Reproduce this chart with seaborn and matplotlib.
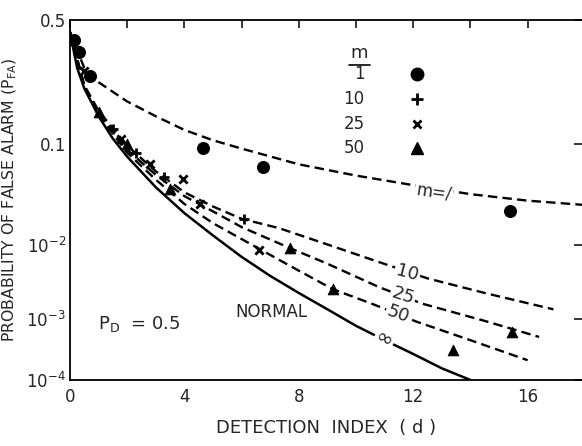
from statistics import NormalDist
import numpy as np
import matplotlib
matplotlib.use("Agg")
import matplotlib.pyplot as plt
import seaborn as sns

# curves (detection index d, probability of false alarm)
d_inf = [0, 0.25, 0.5, 1, 1.5, 2, 3, 4, 5, 6, 7, 8, 9, 10, 11, 12, 13, 14]
p_inf = [0.45, 0.31, 0.24, 0.16, 0.11, 0.079, 0.042, 0.023, 0.013, 0.0072,
         0.0041, 0.0024, 0.0014, 0.00079, 0.00047, 0.00028, 0.00016, 0.0001]

d_m1 = [0, 0.5, 1, 2, 3, 4, 5, 6, 8, 10, 12, 14, 16, 18]
p_m1 = [0.45, 0.31, 0.26, 0.2, 0.16, 0.128, 0.107, 0.092, 0.068, 0.054,
        0.044, 0.036, 0.031, 0.028]

d_m10 = [0, 0.5, 1, 2, 3, 4, 5, 6, 7.3, 9, 10.8, 12.5, 14.5, 16.9]
p_m10 = [0.45, 0.25, 0.174, 0.097, 0.059, 0.0375, 0.027, 0.020, 0.0158,
         0.0102, 0.0062, 0.0038, 0.0024, 0.0014]

d_m25 = [0, 0.5, 1, 2, 3, 4, 5, 6, 7.7, 9, 10.8, 12.3, 14.5, 16.4]
p_m25 = [0.45, 0.248, 0.1685, 0.090, 0.0548, 0.0344, 0.024, 0.0162, 0.0092,
         0.0059, 0.0029, 0.0017, 0.00094, 0.00053]

d_m50 = [0, 0.5, 1, 2, 3, 4, 5, 6.6, 8, 9.2, 10.6, 12.1, 14, 16]
p_m50 = [0.45, 0.245, 0.1635, 0.0853, 0.0495, 0.0287, 0.0179, 0.0091, 0.0048,
         0.0027, 0.00166, 0.00092, 0.00047, 0.00022]

# measured points
pts_m1_d = [0.15, 0.3, 0.7, 4.65, 6.75, 15.4]
pts_m1_p = [0.42, 0.37, 0.28, 0.093, 0.064, 0.024]
pts_m10_d = [0.3, 1.5, 2.3, 3.3, 6.1]
pts_m10_p = [0.37, 0.13, 0.085, 0.052, 0.020]
pts_m25_d = [0.5, 1.8, 2.8, 3.95, 4.55, 6.6]
pts_m25_p = [0.3, 0.11, 0.068, 0.05, 0.029, 0.0087]
pts_m50_d = [1.0, 2.0, 3.5, 7.7, 9.2, 13.4, 15.45]
pts_m50_p = [0.17, 0.1, 0.04, 0.0092, 0.0027, 0.00032, 0.00063]

key_labels = ["1", "10", "25", "50"]
key_markers = ["o", "P", "X", "^"]

y_ticks = [1e-4, 1e-3, 1e-2, 0.1, 0.5]
y_ticklabels = ["$10^{-4}$", "$10^{-3}$", "$10^{-2}$", "0.1", "0.5"]

nd = NormalDist()
_fwd = np.vectorize(lambda p: nd.inv_cdf(min(max(p, 1e-12), 1 - 1e-12)), otypes=[float])
_inv = np.vectorize(nd.cdf, otypes=[float])


def fwd(p):
    return _fwd(np.asarray(p, dtype=float))


def inv(z):
    return _inv(np.asarray(z, dtype=float))


sns.set_style("white")
plt.rcParams["font.family"] = ["DejaVu Sans"]
plt.rcParams["mathtext.default"] = "regular"

fig = plt.figure(figsize=(5.82, 4.46), dpi=100)
ax = fig.add_axes([70 / 582, 1 - 380 / 446, 512 / 582, 360 / 446])
ax.set_yscale("function", functions=(fwd, inv))

dash = (0, (4, 2.2))
sns.lineplot(x=d_inf, y=p_inf, ax=ax, color="black", lw=1.8, sort=False)
for dd, pp in [(d_m1, p_m1), (d_m10, p_m10), (d_m25, p_m25), (d_m50, p_m50)]:
    sns.lineplot(x=dd, y=pp, ax=ax, color="black", lw=1.7, linestyle=dash, sort=False)

sns.scatterplot(x=pts_m1_d, y=pts_m1_p, ax=ax, marker="o", s=75, color="black",
                edgecolor="black", zorder=5)
sns.scatterplot(x=pts_m10_d, y=pts_m10_p, ax=ax, marker="+", s=55, color="black",
                linewidth=2, zorder=5)
sns.scatterplot(x=pts_m25_d, y=pts_m25_p, ax=ax, marker="x", s=35, color="black",
                linewidth=2, zorder=5)
sns.scatterplot(x=pts_m50_d, y=pts_m50_p, ax=ax, marker="^", s=60, color="black",
                edgecolor="black", zorder=5)

ax.set_xlim(0, 17.9)
ax.set_ylim(1e-4, 0.5)
ax.set_yticks(y_ticks)
ax.set_yticklabels(y_ticklabels)
ax.yaxis.set_minor_locator(matplotlib.ticker.NullLocator())
ax.set_xticks([0, 4, 8, 12, 16])
ax.set_xticks([2, 6, 10, 14], minor=True)

ax.tick_params(axis="both", which="both", direction="in", length=6, width=1.1,
               top=True, right=True, labelsize=12, color="black")
ax.tick_params(axis="y", pad=3)
ax.tick_params(axis="x", pad=6)
for s in ["left", "bottom", "top"]:
    ax.spines[s].set_linewidth(1.3)
    ax.spines[s].set_color("black")
ax.spines["right"].set_visible(False)

ax.set_xlabel("DETECTION  INDEX  ( d )", fontsize=13, labelpad=9)
ax.set_ylabel("PROBABILITY OF FALSE ALARM (P$_{FA}$)", fontsize=11.3, labelpad=5)

# key in the upper middle
ax.text(0.564, 0.908, "m", transform=ax.transAxes, fontsize=13, ha="center", va="center")
ax.plot([0.545, 0.585], [0.875, 0.875], transform=ax.transAxes, color="black", lw=1.2)
rows_y = [0.85, 0.781, 0.711, 0.644]
for lab, mk, yy in zip(key_labels, key_markers, rows_y):
    ax.text(0.575, yy, lab, transform=ax.transAxes, fontsize=12, ha="right", va="center")
    if mk == "P":
        ax.plot(0.678, yy, marker="+", ms=8, mew=2, color="black", transform=ax.transAxes)
    elif mk == "X":
        ax.plot(0.678, yy, marker="x", ms=6, mew=2, color="black", transform=ax.transAxes)
    else:
        ax.plot(0.678, yy, marker=mk, ms=9 if mk == "o" else 8, color="black",
                transform=ax.transAxes, linestyle="none")

box = dict(facecolor="white", edgecolor="none", pad=1)
ax.text(12.73, 0.038, "m=/", fontsize=12, ha="center", va="center", rotation=-8, bbox=box)
ax.text(11.78, 0.0045, "10", fontsize=13, ha="center", va="center", rotation=-15, bbox=box)
ax.text(11.64, 0.0022, "25", fontsize=13, ha="center", va="center", rotation=-18, bbox=box)
ax.text(11.47, 0.00118, "50", fontsize=13, ha="center", va="center", rotation=-20, bbox=box)
ax.text(10.98, 0.00048, "∞", fontsize=15, ha="center", va="center", rotation=-30, bbox=box)
ax.text(7.03, 0.0013, "NORMAL", fontsize=12, ha="center", va="center")
ax.text(0.98, 0.00084, "P$_D$  = 0.5", fontsize=13, ha="left", va="center")

fig.savefig("out.png", dpi=100, facecolor="white")
